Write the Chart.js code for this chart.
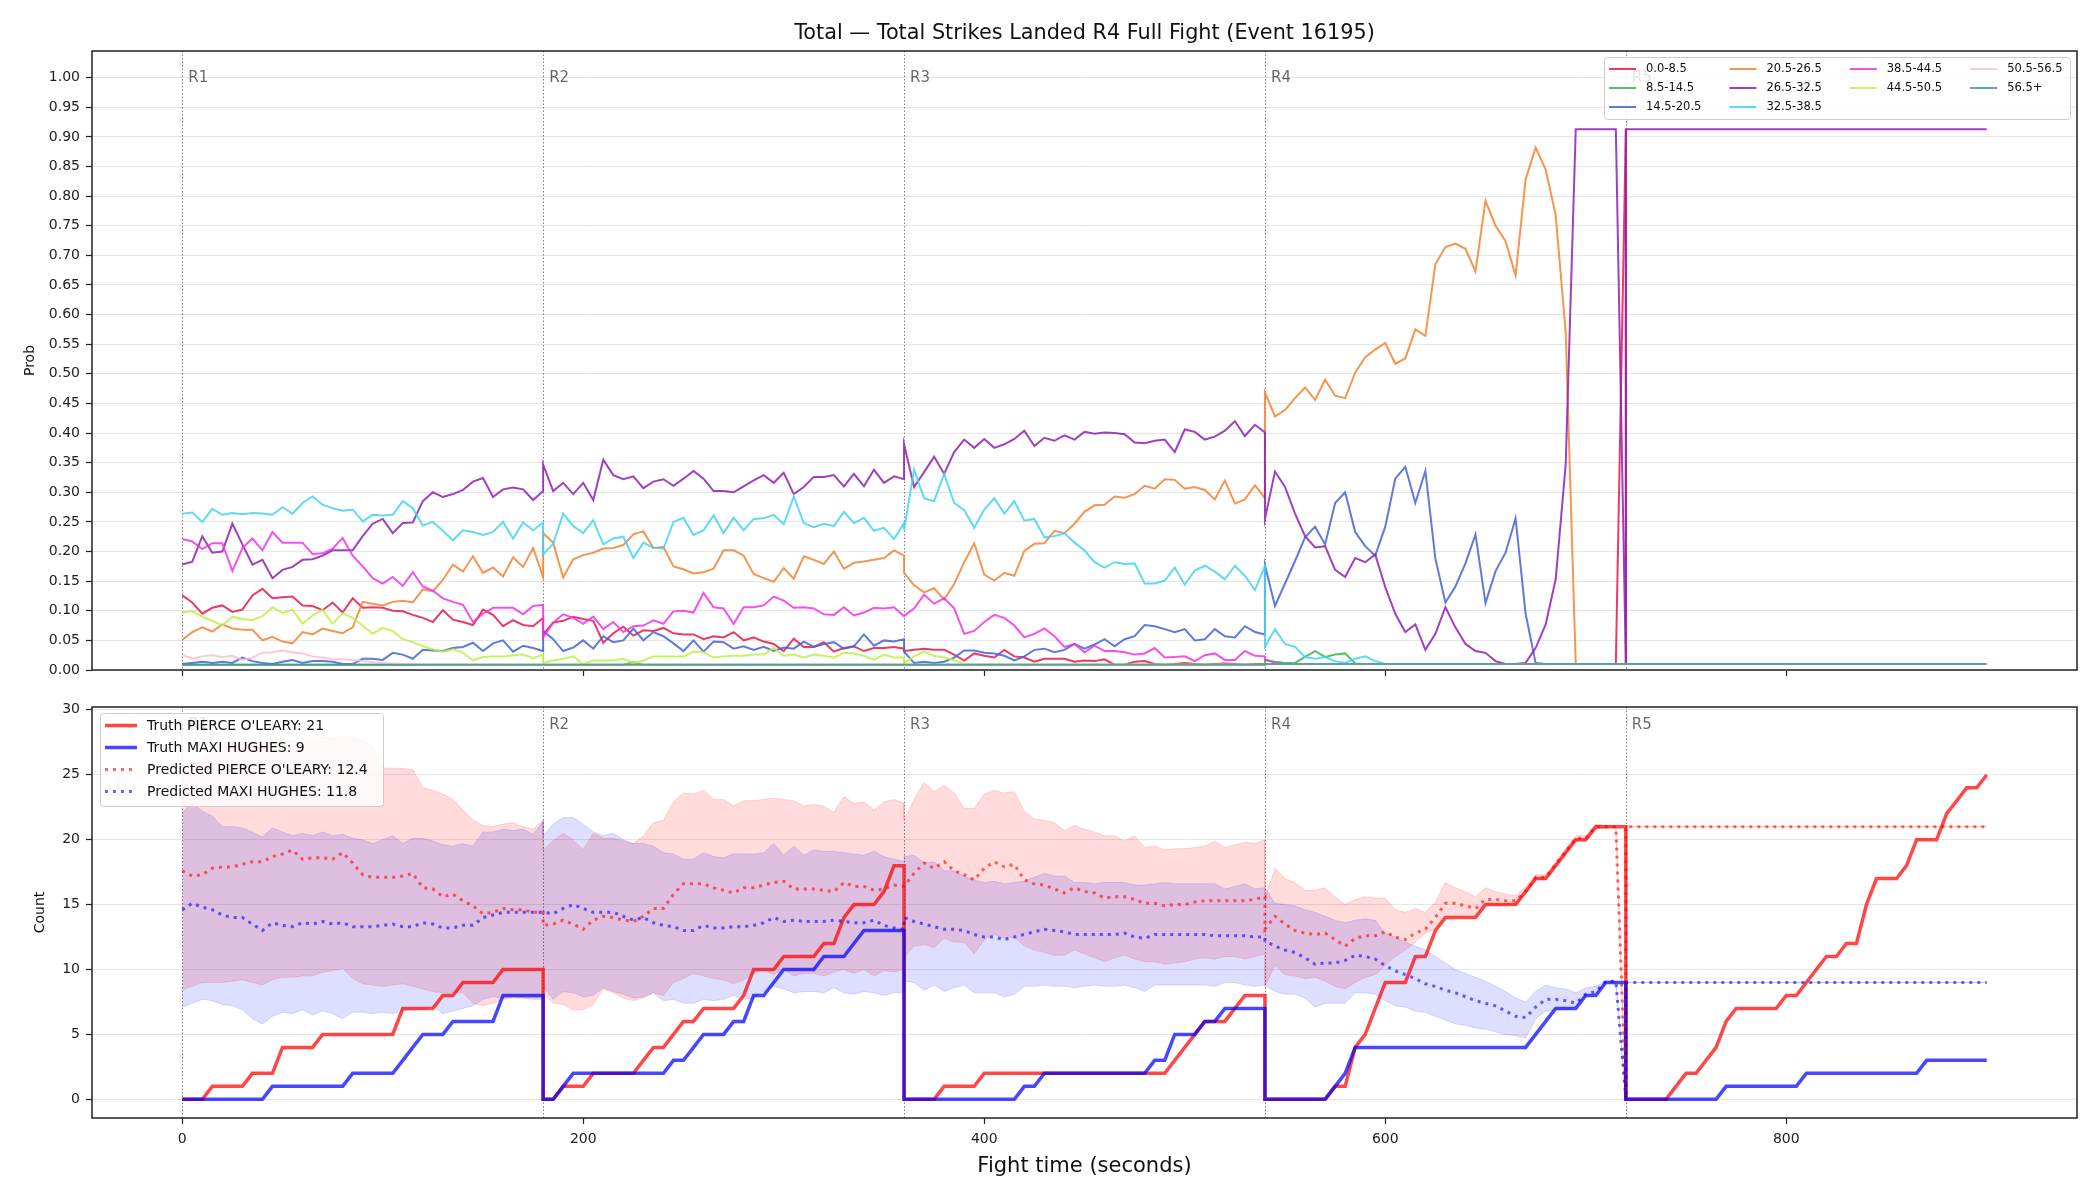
<!DOCTYPE html>
<html lang="en">
<head>
<meta charset="UTF-8">
<title>Total Strikes Landed R4 Full Fight</title>
<script src="https://cdn.jsdelivr.net/npm/chart.js@4.4.1/dist/chart.umd.min.js"></script>
<style>
  body { margin: 0; background: #fff; }
  #wrap { position: relative; width: 2100px; height: 1200px; background: #fff; }
  #wrap canvas { position: absolute; left: 0; }
  #probChart { top: 0; }
  #countChart { top: 690px; }
</style>
</head>
<body>
<div id="wrap">
  <canvas id="probChart" width="2100" height="690"></canvas>
  <canvas id="countChart" width="2100" height="510"></canvas>
</div>
<script>
// ---------- data ----------
const roundStarts = [0, 180, 360, 540, 720];
const roundNames = ['R1', 'R2', 'R3', 'R4', 'R5'];
const stepSec = 5; // one sample every 5 s inside a round
const timeTicks = [0, 200, 400, 600, 800];
const probTicks = [0, 0.05, 0.1, 0.15, 0.2, 0.25, 0.3, 0.35, 0.4, 0.45, 0.5, 0.55, 0.6, 0.65, 0.7, 0.75, 0.8, 0.85, 0.9, 0.95, 1.0];
const countTicks = [0, 5, 10, 15, 20, 25, 30];

const bucketLabels = ['0.0-8.5', '8.5-14.5', '14.5-20.5', '20.5-26.5', '26.5-32.5',
                      '32.5-38.5', '38.5-44.5', '44.5-50.5', '50.5-56.5', '56.5+'];
const bucketColors = ['#e6194b', '#3cb44b', '#4363d8', '#f58231', '#911eb4',
                      '#42d4f4', '#f032e6', '#bfef45', '#fabed4', '#469990'];

// probability of each bucket, one row per round (R1..R5)
const pBucket0 = [
  [.126,.114,.095,.105,.109,.098,.102,.126,.137,.121,.123,.124,.109,.108,.101,.114,.097,.121,.105,.106,.105,.100,.099,.093,.088,.081,.101,.085,.081,.076,.102,.093,.074,.084,.076,.074,.088],
  [.060,.080,.083,.090,.086,.083,.046,.062,.073,.058,.067,.066,.071,.062,.060,.060,.052,.057,.055,.064,.050,.055,.048,.044,.032,.053,.039,.039,.047,.031,.037,.040,.032,.037,.037,.039,.036],
  [.032,.034,.036,.034,.034,.026,.016,.028,.024,.021,.034,.023,.021,.014,.019,.019,.019,.014,.016,.015,.018,.009,.009,.014,.015,.010,.009,.010,.012,.010,.009,.010,.011,.010,.009,.010,.010],
  [.010,.010,.010,.010,.010,.010,.010,.010,.010,.010,.010,.010,.010,.010,.010,.010,.010,.010,.010,.010,.010,.010,.010,.010,.010,.010,.010,.010,.010,.010,.010,.010,.010,.010,.010,.010,.913],
  [.010,.010,.010,.010,.010,.010,.010,.010,.010,.010,.010,.010,.010,.010,.010,.010,.010,.010,.010,.010,.010,.010,.010,.010,.010,.010,.010,.010,.010,.010,.010,.010,.010,.010,.010,.010,.010]
];
const pBucket1 = [
  [.009,.009,.009,.009,.009,.009,.009,.009,.009,.009,.009,.009,.009,.009,.009,.009,.009,.009,.009,.009,.009,.009,.009,.009,.009,.009,.009,.009,.009,.009,.009,.009,.009,.009,.009,.009,.009],
  [.009,.009,.009,.009,.009,.009,.009,.009,.009,.013,.009,.009,.009,.009,.009,.009,.009,.009,.009,.009,.009,.009,.009,.009,.009,.009,.009,.009,.009,.009,.009,.009,.009,.009,.009,.009,.009],
  [.009,.009,.009,.009,.009,.009,.009,.009,.009,.009,.009,.009,.009,.009,.009,.009,.009,.009,.009,.009,.009,.009,.009,.009,.009,.009,.009,.009,.009,.009,.009,.009,.009,.009,.009,.009,.009],
  [.017,.014,.012,.012,.022,.032,.022,.026,.028,.011,.010,.010,.010,.010,.010,.010,.010,.010,.010,.010,.010,.010,.010,.010,.010,.010,.010,.010,.010,.010,.010,.010,.010,.010,.010,.010,.010],
  [.010,.010,.010,.010,.010,.010,.010,.010,.010,.010,.010,.010,.010,.010,.010,.010,.010,.010,.010,.010,.010,.010,.010,.010,.010,.010,.010,.010,.010,.010,.010,.010,.010,.010,.010,.010,.010]
];
const pBucket2 = [
  [.010,.012,.014,.012,.014,.012,.021,.015,.012,.010,.014,.017,.012,.015,.015,.014,.010,.010,.019,.019,.017,.029,.026,.019,.034,.033,.032,.037,.039,.046,.032,.045,.050,.031,.041,.037,.032],
  [.066,.052,.032,.038,.050,.036,.057,.047,.050,.070,.050,.064,.057,.045,.032,.050,.031,.048,.047,.036,.040,.034,.039,.032,.038,.036,.048,.039,.044,.047,.036,.040,.060,.041,.050,.048,.052],
  [.031,.012,.014,.012,.014,.021,.033,.033,.029,.028,.024,.016,.023,.034,.036,.030,.034,.044,.036,.043,.052,.040,.052,.057,.076,.074,.069,.064,.069,.050,.052,.069,.057,.055,.074,.064,.060],
  [.177,.108,.146,.184,.224,.242,.212,.282,.300,.233,.209,.193,.242,.323,.343,.282,.336,.188,.114,.141,.180,.229,.113,.167,.198,.256,.095,.012,.010,.010,.010,.010,.010,.010,.010,.010,.010],
  [.010,.010,.010,.010,.010,.010,.010,.010,.010,.010,.010,.010,.010,.010,.010,.010,.010,.010,.010,.010,.010,.010,.010,.010,.010,.010,.010,.010,.010,.010,.010,.010,.010,.010,.010,.010,.010]
];
const pBucket3 = [
  [.051,.064,.072,.065,.077,.070,.068,.068,.050,.056,.048,.045,.064,.060,.070,.066,.062,.072,.115,.112,.109,.115,.117,.114,.136,.133,.152,.178,.166,.192,.164,.173,.158,.190,.174,.206,.157],
  [.231,.215,.156,.187,.194,.198,.205,.206,.211,.229,.234,.206,.208,.175,.170,.163,.165,.171,.202,.202,.193,.162,.155,.149,.172,.154,.192,.186,.179,.200,.171,.181,.183,.186,.189,.202,.193],
  [.164,.143,.131,.138,.119,.145,.182,.214,.161,.151,.164,.159,.201,.213,.214,.235,.231,.247,.267,.278,.279,.293,.291,.297,.311,.306,.322,.321,.306,.309,.304,.288,.320,.281,.288,.312,.290],
  [.469,.428,.439,.459,.477,.456,.490,.463,.459,.502,.528,.541,.552,.517,.526,.575,.564,.685,.714,.720,.711,.673,.792,.750,.724,.666,.828,.882,.845,.768,.570,.010,.010,.010,.010,.010,.010],
  [.010,.010,.010,.010,.010,.010,.010,.010,.010,.010,.010,.010,.010,.010,.010,.010,.010,.010,.010,.010,.010,.010,.010,.010,.010,.010,.010,.010,.010,.010,.010,.010,.010,.010,.010,.010,.010]
];
const pBucket4 = [
  [.178,.183,.226,.198,.200,.247,.212,.178,.186,.155,.169,.174,.186,.187,.193,.202,.202,.202,.226,.247,.255,.231,.248,.249,.285,.300,.292,.297,.304,.318,.324,.292,.305,.308,.305,.287,.302],
  [.347,.302,.316,.297,.316,.287,.355,.329,.322,.327,.307,.318,.322,.311,.323,.336,.323,.302,.302,.300,.310,.320,.329,.316,.333,.297,.309,.326,.326,.329,.310,.331,.310,.338,.316,.327,.322],
  [.381,.309,.334,.360,.331,.368,.389,.375,.390,.375,.381,.390,.404,.378,.392,.387,.396,.389,.402,.399,.401,.400,.398,.384,.383,.387,.389,.368,.406,.402,.389,.394,.404,.420,.395,.414,.401],
  [.255,.335,.309,.264,.226,.207,.209,.169,.157,.189,.182,.195,.140,.095,.064,.077,.034,.061,.106,.072,.044,.032,.029,.015,.010,.010,.012,.037,.077,.153,.347,.913,.913,.913,.913,.913,.010],
  [.913,.913,.913,.913,.913,.913,.913,.913,.913,.913,.913,.913,.913,.913,.913,.913,.913,.913,.913,.913,.913,.913,.913,.913,.913,.913,.913,.913,.913,.913,.913,.913,.913,.913,.913,.913,.913]
];
const pBucket5 = [
  [.264,.266,.250,.272,.262,.265,.263,.265,.264,.262,.275,.264,.282,.293,.279,.273,.269,.271,.251,.262,.261,.262,.285,.273,.244,.250,.235,.219,.236,.233,.228,.233,.250,.222,.249,.236,.249],
  [.195,.213,.264,.243,.231,.253,.212,.222,.225,.189,.215,.206,.205,.250,.257,.228,.236,.261,.231,.257,.236,.255,.256,.262,.246,.293,.248,.241,.247,.243,.267,.248,.257,.235,.240,.221,.248],
  [.236,.338,.290,.285,.331,.282,.270,.240,.271,.290,.264,.285,.252,.255,.224,.226,.231,.215,.202,.182,.173,.182,.179,.180,.146,.146,.151,.173,.144,.168,.176,.166,.153,.176,.159,.135,.176],
  [.039,.069,.044,.039,.022,.019,.022,.015,.012,.019,.023,.015,.010,.010,.010,.010,.010,.010,.010,.010,.010,.010,.010,.010,.010,.010,.010,.010,.010,.010,.010,.010,.010,.010,.010,.010,.010],
  [.010,.010,.010,.010,.010,.010,.010,.010,.010,.010,.010,.010,.010,.010,.010,.010,.010,.010,.010,.010,.010,.010,.010,.010,.010,.010,.010,.010,.010,.010,.010,.010,.010,.010,.010,.010,.010]
];
const pBucket6 = [
  [.221,.217,.204,.214,.214,.167,.206,.222,.202,.233,.215,.215,.215,.196,.197,.205,.223,.193,.175,.155,.146,.157,.142,.165,.141,.134,.121,.115,.110,.081,.095,.105,.105,.105,.094,.108,.110],
  [.055,.080,.094,.088,.078,.090,.069,.081,.064,.074,.075,.084,.078,.099,.100,.097,.130,.106,.104,.078,.106,.106,.109,.124,.117,.105,.106,.104,.094,.093,.106,.092,.097,.105,.104,.106,.091],
  [.091,.104,.127,.112,.121,.104,.061,.066,.081,.093,.088,.075,.055,.061,.070,.057,.039,.044,.030,.041,.032,.032,.030,.026,.028,.037,.021,.022,.023,.015,.025,.028,.017,.017,.032,.024,.023],
  [.018,.012,.010,.010,.010,.010,.010,.010,.010,.010,.010,.010,.010,.010,.010,.010,.010,.010,.010,.010,.010,.010,.010,.010,.010,.010,.010,.010,.010,.010,.010,.010,.010,.010,.010,.010,.010],
  [.010,.010,.010,.010,.010,.010,.010,.010,.010,.010,.010,.010,.010,.010,.010,.010,.010,.010,.010,.010,.010,.010,.010,.010,.010,.010,.010,.010,.010,.010,.010,.010,.010,.010,.010,.010,.010]
];
const pBucket7 = [
  [.097,.099,.090,.083,.075,.090,.086,.084,.091,.106,.096,.102,.078,.092,.102,.078,.096,.088,.075,.061,.071,.066,.052,.047,.040,.035,.031,.035,.029,.016,.022,.023,.023,.025,.026,.020,.026],
  [.012,.016,.019,.023,.010,.016,.016,.016,.019,.012,.016,.023,.023,.023,.023,.031,.030,.021,.023,.024,.024,.026,.026,.037,.024,.026,.021,.026,.024,.021,.029,.028,.024,.017,.026,.021,.021],
  [.012,.023,.031,.024,.021,.017,.010,.009,.009,.009,.009,.009,.009,.009,.009,.009,.009,.009,.009,.009,.009,.009,.009,.009,.009,.009,.009,.009,.009,.009,.009,.009,.009,.009,.009,.009,.009],
  [.010,.010,.010,.010,.010,.010,.010,.010,.010,.010,.010,.010,.010,.010,.010,.010,.010,.010,.010,.010,.010,.010,.010,.010,.010,.010,.010,.010,.010,.010,.010,.010,.010,.010,.010,.010,.010],
  [.010,.010,.010,.010,.010,.010,.010,.010,.010,.010,.010,.010,.010,.010,.010,.010,.010,.010,.010,.010,.010,.010,.010,.010,.010,.010,.010,.010,.010,.010,.010,.010,.010,.010,.010,.010,.010]
];
const pBucket8 = [
  [.026,.019,.023,.025,.022,.024,.017,.021,.029,.030,.033,.030,.028,.023,.021,.018,.018,.017,.015,.013,.012,.011,.010,.010,.009,.009,.009,.009,.009,.009,.009,.009,.009,.009,.009,.009,.009],
  [.009,.009,.009,.009,.009,.009,.009,.009,.009,.009,.009,.009,.009,.009,.009,.009,.009,.009,.009,.009,.009,.009,.009,.009,.009,.009,.009,.009,.009,.009,.009,.009,.009,.009,.009,.009,.009],
  [.009,.009,.009,.009,.009,.009,.009,.009,.009,.009,.009,.009,.009,.009,.009,.009,.009,.009,.009,.009,.009,.009,.009,.009,.009,.009,.009,.009,.009,.009,.009,.009,.009,.009,.009,.009,.009],
  [.010,.010,.010,.010,.010,.010,.010,.010,.010,.010,.010,.010,.010,.010,.010,.010,.010,.010,.010,.010,.010,.010,.010,.010,.010,.010,.010,.010,.010,.010,.010,.010,.010,.010,.010,.010,.010],
  [.010,.010,.010,.010,.010,.010,.010,.010,.010,.010,.010,.010,.010,.010,.010,.010,.010,.010,.010,.010,.010,.010,.010,.010,.010,.010,.010,.010,.010,.010,.010,.010,.010,.010,.010,.010,.010]
];
const pBucket9 = [
  [.009,.009,.009,.009,.009,.009,.009,.009,.009,.009,.009,.009,.009,.009,.009,.009,.009,.009,.009,.009,.009,.009,.009,.009,.009,.009,.009,.009,.009,.009,.009,.009,.009,.009,.009,.009,.009],
  [.009,.009,.009,.009,.009,.009,.009,.009,.009,.009,.009,.009,.009,.009,.009,.009,.009,.009,.009,.009,.009,.009,.009,.009,.009,.009,.009,.009,.009,.009,.009,.009,.009,.009,.009,.009,.009],
  [.009,.009,.009,.009,.009,.009,.009,.009,.009,.009,.009,.009,.009,.009,.009,.009,.009,.009,.009,.009,.009,.009,.009,.009,.009,.009,.009,.009,.009,.009,.009,.009,.009,.009,.009,.009,.009],
  [.010,.010,.010,.010,.010,.010,.010,.010,.010,.010,.010,.010,.010,.010,.010,.010,.010,.010,.010,.010,.010,.010,.010,.010,.010,.010,.010,.010,.010,.010,.010,.010,.010,.010,.010,.010,.010],
  [.010,.010,.010,.010,.010,.010,.010,.010,.010,.010,.010,.010,.010,.010,.010,.010,.010,.010,.010,.010,.010,.010,.010,.010,.010,.010,.010,.010,.010,.010,.010,.010,.010,.010,.010,.010,.010]
];
const probRows = [pBucket0, pBucket1, pBucket2, pBucket3, pBucket4, pBucket5, pBucket6, pBucket7, pBucket8, pBucket9];

// counts, one row per round
const fighterA = "PIERCE O'LEARY";
const fighterB = 'MAXI HUGHES';
const finalTruth = [21, 9];
const finalPred = [12.4, 11.8];

const truthA = [
  [0,0,0,1,1,1,1,2,2,2,4,4,4,4,5,5,5,5,5,5,5,5,7,7,7,7,8,8,9,9,9,9,10,10,10,10,10],
  [0,0,1,1,1,2,2,2,2,2,3,4,4,5,6,6,7,7,7,7,8,10,10,10,11,11,11,11,12,12,14,15,15,15,16,18,18],
  [0,0,0,0,1,1,1,1,2,2,2,2,2,2,2,2,2,2,2,2,2,2,2,2,2,2,2,3,4,5,6,6,6,7,8,8,8],
  [0,0,0,0,0,0,0,1,1,4,5,7,9,9,9,11,11,13,14,14,14,14,15,15,15,15,16,17,17,18,19,20,20,21,21,21,21],
  [0,0,0,0,0,1,2,2,3,4,6,7,7,7,7,7,8,8,9,10,11,11,12,12,15,17,17,17,18,20,20,20,22,23,24,24,25]
];
const truthB = [
  [0,0,0,0,0,0,0,0,0,1,1,1,1,1,1,1,1,2,2,2,2,2,3,4,5,5,5,6,6,6,6,6,8,8,8,8,8],
  [0,0,1,2,2,2,2,2,2,2,2,2,2,3,3,4,5,5,5,6,6,8,8,9,10,10,10,10,11,11,11,12,13,13,13,13,13],
  [0,0,0,0,0,0,0,0,0,0,0,0,1,1,2,2,2,2,2,2,2,2,2,2,2,3,3,5,5,5,6,6,7,7,7,7,7],
  [0,0,0,0,0,0,0,1,2,4,4,4,4,4,4,4,4,4,4,4,4,4,4,4,4,4,4,5,6,7,7,7,8,8,9,9,9],
  [0,0,0,0,0,0,0,0,0,0,1,1,1,1,1,1,1,1,2,2,2,2,2,2,2,2,2,2,2,2,3,3,3,3,3,3,3]
];
const predA = [
  [17.6,17.2,17.3,17.8,17.9,17.9,18.1,18.3,18.3,18.7,18.9,19.2,18.5,18.6,18.6,18.5,19.0,18.2,17.3,17.1,17.1,17.1,17.2,17.4,16.3,16.2,15.6,15.8,15.3,14.9,14.3,14.4,14.7,14.6,14.6,14.4,14.4],
  [13.4,13.5,13.8,13.5,13.1,13.8,14.1,14.0,13.8,13.7,14.1,14.7,14.7,15.8,16.6,16.6,16.6,16.3,16.1,15.9,16.3,16.3,16.5,16.7,16.8,16.2,16.2,16.2,16.1,16.0,16.7,16.4,16.4,16.1,16.2,16.5,16.4],
  [16.4,17.4,18.2,17.8,18.3,17.6,17.3,16.9,17.8,18.3,17.9,18.1,16.9,16.6,16.5,16.2,15.9,16.3,16.0,15.9,15.5,15.6,15.6,15.4,15.1,15.1,14.9,15.0,15.0,15.2,15.3,15.3,15.3,15.3,15.3,15.4,15.6],
  [13.1,14.1,13.5,13.0,12.8,12.7,12.8,12.3,11.8,12.4,12.6,12.6,12.9,12.5,12.3,12.8,13.1,14.0,15.1,15.1,14.9,14.7,15.4,15.4,15.3,15.3,16.0,17.1,17.1,18.1,19.1,20.1,20.1,21.0,21.0,21.0,0],
  [21,21,21,21,21,21,21,21,21,21,21,21,21,21,21,21,21,21,21,21,21,21,21,21,21,21,21,21,21,21,21,21,21,21,21,21,21]
];
const predB = [
  [14.6,15.1,14.8,14.6,14.2,14.0,14.0,13.5,13.0,13.6,13.4,13.3,13.6,13.5,13.7,13.5,13.6,13.3,13.3,13.3,13.4,13.5,13.3,13.3,13.6,13.5,13.2,13.2,13.4,13.4,14.0,14.2,14.4,14.4,14.4,14.4,14.4],
  [14.4,14.3,14.7,15.0,14.7,14.4,14.4,14.4,14.1,13.8,14.0,13.6,13.4,13.3,13.0,13.0,13.4,13.2,13.2,13.3,13.3,13.4,13.6,14.0,13.7,13.8,13.7,13.7,13.7,13.8,13.7,13.6,13.6,13.8,13.4,13.2,13.1],
  [14.0,13.7,13.5,13.3,13.1,13.1,13.0,12.7,12.5,12.5,12.3,12.5,12.7,12.9,13.1,13.0,12.9,12.7,12.7,12.7,12.7,12.7,12.8,12.5,12.4,12.7,12.7,12.7,12.7,12.7,12.7,12.6,12.6,12.6,12.6,12.5,12.5],
  [12.2,11.8,11.5,11.3,10.9,10.4,10.5,10.5,10.7,11.1,11.0,10.8,10.3,9.9,9.6,9.3,8.9,8.7,8.4,8.2,7.9,7.6,7.4,7.2,6.8,6.4,6.3,7.1,7.7,7.7,7.6,7.4,8.1,8.3,9.1,9.1,0],
  [9,9,9,9,9,9,9,9,9,9,9,9,9,9,9,9,9,9,9,9,9,9,9,9,9,9,9,9,9,9,9,9,9,9,9,9,9]
];
const bandAHigh = [
  [24.5,25.5,26.3,26.8,27.2,27.0,27.4,27.6,27.3,27.5,27.8,27.6,27.4,27.7,27.9,27.8,28.0,27.9,27.6,27.2,25.5,25.5,25.5,25.4,24.0,23.8,23.5,23.1,22.3,21.5,21.1,21.0,21.2,21.3,21.0,20.8,21.5],
  [19.2,19.9,20.5,20.0,19.2,20.5,20.1,20.1,19.9,19.7,20.3,21.3,21.5,22.9,23.6,23.5,23.8,23.1,23.1,22.6,23.0,23.0,23.1,23.2,23.1,23.0,22.6,22.7,22.6,22.1,23.3,22.8,22.9,22.3,22.9,23.1,22.8],
  [21.5,23.1,24.4,23.7,24.2,23.6,22.4,22.4,23.5,23.8,23.6,23.7,22.2,21.6,21.5,21.3,20.7,21.1,20.8,20.6,20.3,20.3,19.9,20.3,19.4,19.5,19.2,19.3,19.3,19.4,19.5,19.9,19.4,19.6,19.8,19.7,20.0],
  [15.5,17.8,17.0,16.7,16.1,16.1,16.3,15.6,15.0,15.4,15.6,15.5,15.5,14.6,14.4,14.7,14.4,15.2,16.7,16.3,16.0,15.6,16.3,16.0,15.8,15.7,16.4,17.3,17.3,18.3,19.3,20.3,20.3,21.2,21.1,21.0,0],
  [21,21,21,21,21,21,21,21,21,21,21,21,21,21,21,21,21,21,21,21,21,21,21,21,21,21,21,21,21,21,21,21,21,21,21,21,21]
];
const bandALow = [
  [8.4,8.7,9.0,9.0,9.0,9.1,9.2,9.0,8.8,9.2,9.4,9.4,9.5,9.5,9.8,9.9,10.1,9.3,8.9,8.8,8.7,8.8,8.9,8.7,8.5,8.3,8.2,8.2,8.2,7.4,7.2,7.4,7.7,7.8,7.8,7.8,7.8],
  [8.2,7.4,7.3,6.9,6.9,7.3,8.5,8.2,7.8,7.6,7.8,8.2,8.0,9.0,9.3,9.7,9.5,9.3,9.2,8.9,9.2,9.7,10.0,9.6,10.0,9.5,9.7,9.7,9.5,9.8,10.0,9.7,10.0,9.5,9.9,9.8,10.0],
  [10.9,11.8,11.9,11.7,12.4,12.1,12.1,11.2,12.3,12.7,12.4,12.5,11.8,11.5,11.3,11.1,11.1,11.5,11.2,10.9,10.6,10.9,11.1,10.8,10.6,10.6,10.4,10.5,10.6,10.8,10.9,10.8,11.0,11.0,10.8,11.0,11.2],
  [8.7,10.3,9.6,9.5,9.3,9.4,9.1,8.7,8.5,9.0,9.4,9.6,10.3,11.0,11.5,12.1,12.8,13.1,14.1,14.1,14.1,14.1,15.0,15.0,15.0,15.0,15.9,16.9,16.9,17.9,18.9,19.9,19.9,20.8,20.9,21.0,0],
  [21,21,21,21,21,21,21,21,21,21,21,21,21,21,21,21,21,21,21,21,21,21,21,21,21,21,21,21,21,21,21,21,21,21,21,21,21]
];
const bandBHigh = [
  [22.1,22.8,22.2,21.8,21.0,21.0,20.9,20.6,20.2,20.9,20.6,20.3,20.5,20.3,20.6,20.3,20.4,20.1,20.0,19.7,20.0,20.3,19.7,20.1,20.1,19.9,19.6,19.5,19.7,19.5,20.6,20.6,20.8,20.7,20.8,20.4,21.4],
  [20.3,21.2,21.7,21.7,21.2,20.6,20.3,20.5,20.0,19.7,19.7,19.5,19.0,18.9,18.5,18.5,19.0,18.7,18.6,18.9,18.9,18.9,19.0,19.7,18.8,19.5,18.8,19.2,19.1,19.1,19.0,18.9,18.8,19.1,18.7,18.5,18.3],
  [18.7,18.8,18.2,18.3,17.6,17.6,17.2,16.9,16.7,16.8,16.6,16.7,16.8,17.1,17.4,17.2,17.2,16.7,16.7,16.6,16.7,16.7,16.7,16.5,16.5,16.6,16.7,16.6,16.6,16.6,16.6,16.6,16.2,16.4,16.6,16.2,16.3],
  [16.3,15.1,15.0,14.9,14.6,14.4,14.1,13.8,13.6,13.8,13.9,13.8,12.8,12.5,12.1,11.8,11.5,11.0,10.5,10.0,9.7,9.4,9.1,8.7,8.3,7.8,7.5,8.3,8.8,8.6,8.5,8.2,8.6,8.7,9.1,9.1,0],
  [9,9,9,9,9,9,9,9,9,9,9,9,9,9,9,9,9,9,9,9,9,9,9,9,9,9,9,9,9,9,9,9,9,9,9,9,9]
];
const bandBLow = [
  [7.1,7.4,7.7,7.6,7.3,7.2,6.9,6.2,5.8,6.4,6.7,6.6,6.9,6.5,6.8,6.6,6.2,6.7,6.7,6.6,6.7,6.6,6.8,6.9,6.9,7.2,6.6,6.8,7.0,7.2,7.7,7.9,7.8,7.9,7.8,7.7,7.7],
  [8.7,7.7,8.3,8.2,7.9,8.0,8.6,8.3,8.1,7.8,7.9,8.2,7.6,7.7,7.4,7.4,7.7,7.6,7.7,8.0,7.7,7.8,8.3,8.7,8.5,8.2,8.3,8.3,8.2,8.6,8.2,8.1,8.3,8.2,8.0,8.2,8.2],
  [9.1,9.0,8.4,8.8,8.3,8.6,8.8,8.2,8.2,8.2,7.9,8.1,8.7,8.7,8.8,8.7,8.7,8.6,8.7,8.8,8.7,8.7,8.8,8.6,8.3,8.8,8.8,8.8,8.8,8.8,8.8,8.7,9.0,9.0,8.8,8.7,8.8],
  [8.8,8.3,8.1,8.1,7.8,7.1,7.4,7.4,7.4,8.2,8.2,8.1,7.6,7.2,7.1,6.8,6.7,6.4,6.1,5.8,5.7,5.5,5.4,5.2,5.0,4.9,4.7,6.2,6.8,6.9,6.9,7.1,8.0,8.1,9.0,9.0,0],
  [9,9,9,9,9,9,9,9,9,9,9,9,9,9,9,9,9,9,9,9,9,9,9,9,9,9,9,9,9,9,9,9,9,9,9,9,9]
];

// ---------- helpers ----------
function rgba(hex, a) {
  const n = parseInt(hex.slice(1), 16);
  return 'rgba(' + (n >> 16) + ',' + ((n >> 8) & 255) + ',' + (n & 255) + ',' + a + ')';
}
// rows of per-round samples -> {x, y} points (rounds joined, so resets show as vertical drops)
function series(rows) {
  const pts = [];
  rows.forEach((row, r) => row.forEach((v, k) => pts.push({ x: roundStarts[r] + k * stepSec, y: v })));
  return pts;
}

const FONT = '"DejaVu Sans", "Liberation Sans", sans-serif';
Chart.defaults.font.family = FONT;
Chart.defaults.font.size = 14;
Chart.defaults.color = '#222';

const RED = 'rgba(255,0,0,0.72)';
const BLUE = 'rgba(0,0,255,0.72)';
const RED_DOT = 'rgba(255,0,0,0.6)';
const BLUE_DOT = 'rgba(0,0,255,0.6)';
const RED_BAND = 'rgba(255,0,0,0.14)';
const BLUE_BAND = 'rgba(0,0,255,0.13)';

function roundRect(ctx, x, y, w, h, r) {
  ctx.beginPath();
  ctx.moveTo(x + r, y);
  ctx.lineTo(x + w - r, y); ctx.arcTo(x + w, y, x + w, y + r, r);
  ctx.lineTo(x + w, y + h - r); ctx.arcTo(x + w, y + h, x + w - r, y + h, r);
  ctx.lineTo(x + r, y + h); ctx.arcTo(x, y + h, x, y + h - r, r);
  ctx.lineTo(x, y + r); ctx.arcTo(x, y, x + r, y, r);
  ctx.closePath();
}

function drawLegend(ctx, lg) {
  ctx.save();
  roundRect(ctx, lg.x + 0.5, lg.y + 0.5, lg.w, lg.h, 3);
  ctx.fillStyle = 'rgba(255,255,255,0.8)';
  ctx.fill();
  ctx.strokeStyle = '#cccccc';
  ctx.lineWidth = 1;
  ctx.stroke();
  ctx.font = lg.fontSize + 'px ' + FONT;
  ctx.textBaseline = 'middle';
  ctx.textAlign = 'left';
  lg.items.forEach(it => {
    ctx.strokeStyle = it.color;
    ctx.lineWidth = it.width;
    ctx.setLineDash(it.dash || []);
    ctx.beginPath();
    ctx.moveTo(it.x, it.y);
    ctx.lineTo(it.x + lg.handle, it.y);
    ctx.stroke();
    ctx.setLineDash([]);
    ctx.fillStyle = '#111';
    ctx.fillText(it.label, it.x + lg.handle + lg.gap, it.y + 0.5);
  });
  ctx.restore();
}

function decorPlugin(cfg) {
  return {
    id: cfg.id,
    beforeDatasetsDraw(chart) {
      const { ctx, chartArea: a } = chart;
      const xs = chart.scales.x;
      ctx.save();
      ctx.strokeStyle = 'rgba(0,0,0,0.5)';
      ctx.lineWidth = 1;
      ctx.setLineDash([1.5, 2]);
      roundStarts.forEach(t => {
        const px = Math.round(xs.getPixelForValue(t)) + 0.5;
        ctx.beginPath(); ctx.moveTo(px, a.top); ctx.lineTo(px, a.bottom); ctx.stroke();
      });
      ctx.restore();
    },
    afterDatasetsDraw(chart) {
      const { ctx } = chart;
      const xs = chart.scales.x, ys = chart.scales.y;
      ctx.save();
      ctx.font = '15px ' + FONT;
      ctx.fillStyle = 'rgba(0,0,0,0.6)';
      ctx.textBaseline = 'middle';
      ctx.textAlign = 'left';
      const ly = ys.getPixelForValue(cfg.roundLabelAt);
      roundStarts.forEach((t, i) => ctx.fillText(roundNames[i], xs.getPixelForValue(t) + 6, ly));
      ctx.restore();
    },
    afterDraw(chart) {
      const { ctx, chartArea: a } = chart;
      ctx.save();
      // axes box
      ctx.strokeStyle = '#222';
      ctx.lineWidth = 1.5;
      ctx.strokeRect(a.left, a.top, a.right - a.left, a.bottom - a.top);
      // texts
      ctx.fillStyle = '#111';
      ctx.textAlign = 'center';
      ctx.textBaseline = 'middle';
      const cx = (a.left + a.right) / 2;
      if (cfg.title) {
        ctx.font = '20.8px ' + FONT;
        ctx.fillText(cfg.title, cx, cfg.titleY);
      }
      if (cfg.xLabel) {
        ctx.font = '21px ' + FONT;
        ctx.fillText(cfg.xLabel, cx, cfg.xLabelY);
      }
      ctx.font = '14px ' + FONT;
      ctx.translate(cfg.yLabelX, (a.top + a.bottom) / 2);
      ctx.rotate(-Math.PI / 2);
      ctx.fillText(cfg.yLabel, 0, 0);
      ctx.restore();
      drawLegend(ctx, cfg.legend);
    }
  };
}

function xScale(showLabels) {
  return {
    type: 'linear', min: -45, max: 945,
    afterBuildTicks: s => { s.ticks = timeTicks.map(v => ({ value: v })); },
    afterFit: s => { s.height = showLabels ? 82 : 20; },
    ticks: { display: showLabels, padding: 7, color: '#222', font: { size: 14 }, callback: v => String(v), maxRotation: 0 },
    grid: { drawOnChartArea: false, drawTicks: true, tickLength: 6, tickColor: '#222', tickWidth: 1.2 },
    border: { display: false }
  };
}

// ---------- top chart: bucket probabilities ----------
// legend is 4 columns filled top-down: 3, 3, 2, 2 entries
const topLegendSlots = [[0, 0], [0, 1], [0, 2], [1, 0], [1, 1], [1, 2], [2, 0], [2, 1], [3, 0], [3, 1]];
const topLegendItems = bucketLabels.map((label, i) => ({
  label,
  color: rgba(bucketColors[i], 0.85),
  width: 2,
  x: 1609 + topLegendSlots[i][0] * 120.4,
  y: 69 + topLegendSlots[i][1] * 19
}));

new Chart(document.getElementById('probChart'), {
  type: 'line',
  data: {
    datasets: bucketLabels.map((label, i) => ({
      label,
      data: series(probRows[i]),
      borderColor: rgba(bucketColors[i], 0.85),
      borderWidth: 2,
      pointRadius: 0,
      tension: 0,
      fill: false,
      order: bucketLabels.length - i
    }))
  },
  options: {
    responsive: false,
    animation: false,
    devicePixelRatio: 1,
    layout: { padding: { left: 0, right: 23, top: 51, bottom: 0 } },
    plugins: { legend: { display: false }, tooltip: { enabled: false } },
    scales: {
      x: xScale(false),
      y: {
        min: 0, max: 1.045,
        afterBuildTicks: s => { s.ticks = probTicks.map(v => ({ value: v })); },
        afterFit: s => { s.width = 92; },
        ticks: { callback: v => v.toFixed(2), padding: 6, color: '#222', font: { size: 14 } },
        grid: { color: '#e6e6e6', lineWidth: 1, tickColor: '#222', tickLength: 6, tickWidth: 1.2 },
        border: { display: false }
      }
    }
  },
  plugins: [decorPlugin({
    id: 'decorTop',
    title: 'Total \u2014 Total Strikes Landed R4 Full Fight (Event 16195)',
    titleY: 33.5,
    yLabel: 'Prob',
    yLabelX: 30,
    roundLabelAt: 1.0,
    legend: { x: 1604, y: 57, w: 466, h: 62, fontSize: 11.5, handle: 27, gap: 10, items: topLegendItems }
  })]
});

// ---------- bottom chart: counts ----------
const bottomLegendItems = [
  { label: 'Truth ' + fighterA + ': ' + finalTruth[0], color: RED, width: 3.5 },
  { label: 'Truth ' + fighterB + ': ' + finalTruth[1], color: BLUE, width: 3.5 },
  { label: 'Predicted ' + fighterA + ': ' + finalPred[0], color: RED_DOT, width: 3, dash: [3, 5] },
  { label: 'Predicted ' + fighterB + ': ' + finalPred[1], color: BLUE_DOT, width: 3, dash: [3, 5] }
].map((it, i) => Object.assign(it, { x: 105, y: 35.5 + i * 22 }));

const lineBase = { pointRadius: 0, tension: 0 };
new Chart(document.getElementById('countChart'), {
  type: 'line',
  data: {
    datasets: [
      Object.assign({ label: 'bandA hi', data: series(bandAHigh), borderColor: RED_BAND, borderWidth: 1, backgroundColor: RED_BAND, fill: 1, order: 10 }, lineBase),
      Object.assign({ label: 'bandA lo', data: series(bandALow), borderColor: RED_BAND, borderWidth: 1, fill: false, order: 10 }, lineBase),
      Object.assign({ label: 'bandB hi', data: series(bandBHigh), borderColor: BLUE_BAND, borderWidth: 1, backgroundColor: BLUE_BAND, fill: 3, order: 9 }, lineBase),
      Object.assign({ label: 'bandB lo', data: series(bandBLow), borderColor: BLUE_BAND, borderWidth: 1, fill: false, order: 9 }, lineBase),
      Object.assign({ label: 'Truth A', data: series(truthA), borderColor: RED, borderWidth: 3.5, fill: false, order: 4 }, lineBase),
      Object.assign({ label: 'Truth B', data: series(truthB), borderColor: BLUE, borderWidth: 3.5, fill: false, order: 3 }, lineBase),
      Object.assign({ label: 'Pred A', data: series(predA), borderColor: RED_DOT, borderWidth: 3, borderDash: [3, 5], fill: false, order: 2 }, lineBase),
      Object.assign({ label: 'Pred B', data: series(predB), borderColor: BLUE_DOT, borderWidth: 3, borderDash: [3, 5], fill: false, order: 1 }, lineBase)
    ]
  },
  options: {
    responsive: false,
    animation: false,
    devicePixelRatio: 1,
    layout: { padding: { left: 0, right: 23, top: 17, bottom: 0 } },
    plugins: { legend: { display: false }, tooltip: { enabled: false }, filler: { drawTime: 'beforeDatasetsDraw' } },
    scales: {
      x: xScale(true),
      y: {
        min: -1.44, max: 30.22,
        afterBuildTicks: s => { s.ticks = countTicks.map(v => ({ value: v })); },
        afterFit: s => { s.width = 92; },
        ticks: { callback: v => String(v), padding: 6, color: '#222', font: { size: 14 } },
        grid: { color: '#e6e6e6', lineWidth: 1, tickColor: '#222', tickLength: 6, tickWidth: 1.2 },
        border: { display: false }
      }
    }
  },
  plugins: [decorPlugin({
    id: 'decorBottom',
    xLabel: 'Fight time (seconds)',
    xLabelY: 477,
    yLabel: 'Count',
    yLabelX: 40,
    roundLabelAt: 28.8,
    legend: { x: 100, y: 23, w: 283, h: 93, fontSize: 14, handle: 32, gap: 10, items: bottomLegendItems }
  })]
});
</script>
</body>
</html>
